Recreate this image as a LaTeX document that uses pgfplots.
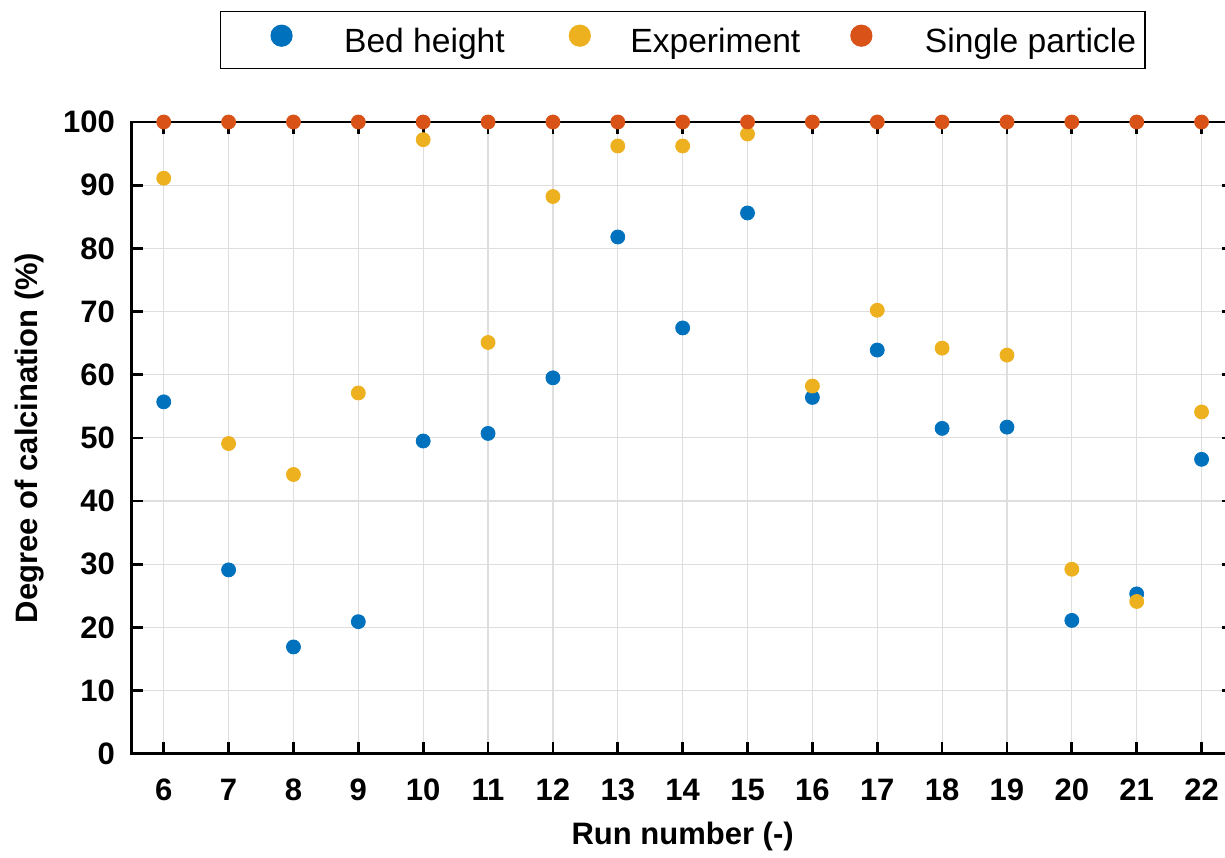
\documentclass[border=0pt]{standalone}
\usepackage{fontspec}
\setmainfont{Liberation Sans}
\usepackage{pgfplots}
\pgfplotsset{compat=1.18}
\definecolor{cB}{HTML}{0072BD}
\definecolor{cY}{HTML}{EDB120}
\definecolor{cR}{HTML}{D95319}
\begin{document}
\begin{tikzpicture}
\begin{axis}[
  at={(0,0)}, anchor=south west,
  scale only axis, width=551.35pt, height=315.85pt,
  xmin=5.5, xmax=22.5, ymin=0, ymax=100,
  xtick={6,...,22}, ytick={0,10,...,100},
  grid=major, major grid style={line width=0.6pt, draw=black!13},
  axis line style={line width=1.35pt},
  major tick style={line width=1.35pt, black},
  major tick length=6pt,
  tick align=inside,
  /pgf/number format/assume math mode=true,
  tick label style={font=\fontsize{15.5}{18}\selectfont\bfseries, inner sep=0pt},
  xticklabel style={yshift=-12.5pt},
  yticklabel style={xshift=-8pt},
  label style={font=\fontsize{15.5}{18}\selectfont\bfseries, inner sep=0pt},
  xlabel={Run number (-)},
  ylabel={Degree of calcination (\%)},
  xlabel style={at={(axis description cs:0.5,-0.143)}, anchor=base},
  ylabel style={at={(axis description cs:-0.0855,0.5)}, anchor=base},
  legend columns=3,
  legend image code/.code={\path[draw=none,fill=none] (-26pt,0pt) -- (5.25pt,0pt); \fill (0pt,3pt) circle (5.25pt);},
  legend style={
    at={(axis description cs:0.0804,1.1757)}, anchor=north west,
    draw=black, line width=0.6pt,
    font=\fontsize{16.8}{19}\selectfont,
    inner xsep=4.5pt, inner ysep=6.5pt,
    nodes={inner sep=0pt},
    /tikz/column 1/.style={column sep=25.75pt},
    /tikz/column 2/.style={column sep=11.5pt},
    /tikz/column 3/.style={column sep=19.75pt},
    /tikz/column 4/.style={column sep=4.5pt},
    /tikz/column 5/.style={column sep=26.25pt},
  },
]
\addplot[only marks, mark=*, mark size=3.5pt, color=cB] coordinates {
 (6,55.7) (7,29.1) (8,16.9) (9,20.9) (10,49.5) (11,50.7) (12,59.5) (13,81.8) (14,67.4)
 (15,85.6) (16,56.4) (17,63.9) (18,51.5) (19,51.7) (20,21.1) (21,25.3) (22,46.6)};
\addlegendentry{Bed height}
\addplot[only marks, mark=*, mark size=3.5pt, color=cY] coordinates {
 (6,91.1) (7,49.1) (8,44.2) (9,57.1) (10,97.2) (11,65.1) (12,88.2) (13,96.2) (14,96.2)
 (15,98.1) (16,58.2) (17,70.2) (18,64.2) (19,63.1) (20,29.2) (21,24.1) (22,54.1)};
\addlegendentry{Experiment}
\addplot[only marks, mark=*, mark size=3.5pt, color=cR] coordinates {
 (6,100) (7,100) (8,100) (9,100) (10,100) (11,100) (12,100) (13,100) (14,100)
 (15,100) (16,100) (17,100) (18,100) (19,100) (20,100) (21,100) (22,100)};
\addlegendentry{Single particle}
\end{axis}
\pgfresetboundingbox
\useasboundingbox (-65.65pt,-51.65pt) rectangle (546.85pt,376.85pt);
\end{tikzpicture}
\end{document}
